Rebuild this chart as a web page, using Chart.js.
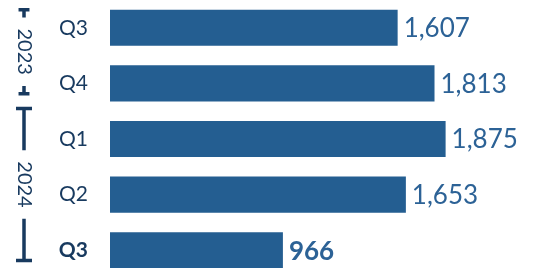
<!DOCTYPE html>
<html>
<head>
<meta charset="utf-8">
<script src="https://cdn.jsdelivr.net/npm/chart.js@4.4.1/dist/chart.umd.min.js"></script>
<style>
    html, body { margin: 0; padding: 0; background: #fff; overflow: hidden; height: 268px; }
    #wrap { position: relative; width: 536px; height: 278px; }
</style>
</head>
<body>
<div id="wrap"><canvas id="chart"></canvas></div>
<script>
const quarters = ['Q3', 'Q4', 'Q1', 'Q2', 'Q3'];
const values = [1607, 1813, 1875, 1653, 966];
const valueLabels = ['1,607', '1,813', '1,875', '1,653', '966'];
const years = ['2023', '2024'];
const yearStart = [0, 2];
const yearEnd = [1, 4];

const barColor = '#245e91';
const valueColor = '#2c6296';
const darkNavy = '#183a5f';
const fontFamily = 'Lato, "Open Sans", sans-serif';
const lastIdx = values.length - 1;

// value labels to the right of each bar
const valueLabelPlugin = {
    id: 'valueLabels',
    afterDatasetsDraw(chart) {
        const ctx = chart.ctx;
        const meta = chart.getDatasetMeta(0);
        ctx.save();
        ctx.textBaseline = 'middle';
        ctx.textAlign = 'left';
        meta.data.forEach((bar, i) => {
            const bold = i === lastIdx;
            ctx.font = (bold ? 'bold ' : '') + '26px ' + fontFamily;
            ctx.fillStyle = valueColor;
            ctx.fillText(valueLabels[i], bar.x + 6, bar.y + 1);
        });
        ctx.restore();
    }
};

// year brackets on the left
const yearBracketPlugin = {
    id: 'yearBrackets',
    afterDraw(chart) {
        const ctx = chart.ctx;
        const yScale = chart.scales.y;
        const slot = yScale.getPixelForValue(1) - yScale.getPixelForValue(0);
        const cx = 24;
        ctx.save();
        ctx.strokeStyle = darkNavy;
        ctx.fillStyle = darkNavy;
        ctx.lineWidth = 3.5;
        ctx.font = '20px ' + fontFamily;
        years.forEach((yr, g) => {
            const top = Math.max(yScale.getPixelForValue(yearStart[g]) - slot * 0.58, 8);
            const bottom = yScale.getPixelForValue(yearEnd[g]) + 12;
            const mid = (top + bottom) / 2;
            const half = ctx.measureText(yr).width / 2 + 11;
            const cap = Math.min(8, (bottom - top) / 16);
            ctx.beginPath();
            ctx.moveTo(cx, top);
            ctx.lineTo(cx, mid - half);
            ctx.moveTo(cx, mid + half);
            ctx.lineTo(cx, bottom);
            ctx.moveTo(cx - cap, top + 1.75);
            ctx.lineTo(cx + cap, top + 1.75);
            ctx.moveTo(cx - cap, bottom - 1.75);
            ctx.lineTo(cx + cap, bottom - 1.75);
            ctx.stroke();

            ctx.save();
            ctx.translate(cx, mid);
            ctx.rotate(Math.PI / 2);
            ctx.textAlign = 'center';
            ctx.textBaseline = 'middle';
            ctx.fillText(yr, 0, 0);
            ctx.restore();
        });
        ctx.restore();
    }
};

new Chart(document.getElementById('chart'), {
    type: 'bar',
    data: {
        labels: quarters,
        datasets: [{
            data: values,
            backgroundColor: barColor,
            borderWidth: 0,
            categoryPercentage: 1,
            barPercentage: 0.65
        }]
    },
    options: {
        indexAxis: 'y',
        responsive: true,
        maintainAspectRatio: false,
        animation: false,
        layout: { padding: 0 },
        plugins: {
            legend: { display: false },
            tooltip: { enabled: false }
        },
        scales: {
            x: {
                display: false,
                min: 0,
                max: 2380
            },
            y: {
                grid: { display: false },
                border: { display: false },
                afterFit(scale) {
                    scale.width = 110;
                    scale.paddingTop = 0;
                    scale.paddingBottom = 0;
                },
                ticks: {
                    padding: 14,
                    color: darkNavy,
                    font: (c) => ({
                        family: fontFamily,
                        size: 21,
                        weight: c.index === lastIdx ? 'bold' : 'normal'
                    })
                }
            }
        }
    },
    plugins: [valueLabelPlugin, yearBracketPlugin]
});
</script>
</body>
</html>
